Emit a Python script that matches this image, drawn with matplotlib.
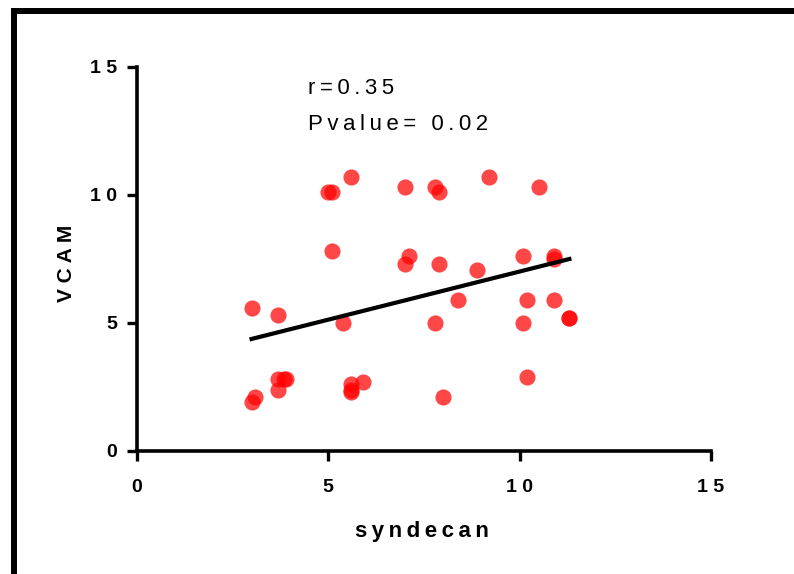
import numpy as np
import matplotlib.pyplot as plt
from matplotlib.patches import Rectangle

plt.rcParams['font.family'] = ['Liberation Sans', 'DejaVu Sans']

# values
syndecan = [5.0, 5.1, 5.6, 7.0, 7.8, 7.9, 9.2, 10.5,
            5.1, 7.1, 7.0, 7.9, 8.9, 10.1, 10.9, 10.9,
            8.4, 10.2, 10.9, 11.3, 11.3, 10.1, 7.8, 5.4,
            3.0, 3.7, 3.7, 3.7, 3.85, 3.9, 3.0, 3.1,
            5.6, 5.6, 5.6, 5.9, 8.0, 10.2]
vcam = [10.1, 10.1, 10.7, 10.3, 10.3, 10.1, 10.7, 10.3,
        7.8, 7.6, 7.3, 7.3, 7.05, 7.6, 7.6, 7.5,
        5.9, 5.9, 5.9, 5.2, 5.2, 5.0, 5.0, 5.0,
        5.6, 5.3, 2.4, 2.8, 2.8, 2.8, 1.9, 2.1,
        2.6, 2.4, 2.3, 2.7, 2.1, 2.9]
fit_slope = 0.376
fit_intercept = 3.245
r_value = 0.35
p_value = 0.02
x_ticks = [0, 5, 10, 15]
y_ticks = [0, 5, 10, 15]


def spaced(s, sep='\u2009'):
    # prism-style wide letter spacing
    return sep.join(s)


fig = plt.figure(figsize=(7.94, 5.74), dpi=100)
ax = fig.add_axes([0.1722, 0.2143, 0.7233, 0.6695])

ax.scatter(syndecan, vcam, s=135, color='red', alpha=0.72, linewidths=0, zorder=3)

xs = np.array([min(syndecan), max(syndecan)])
ax.plot(xs, fit_intercept + fit_slope * xs, color='black', linewidth=3.0, zorder=4)

ax.set_xlim(0, 15)
ax.set_ylim(0, 15)
ax.set_xticks(x_ticks)
ax.set_yticks(y_ticks)
ax.set_xticklabels([spaced(str(t), ' ') for t in x_ticks], fontweight='bold', fontsize=14)
ax.set_yticklabels([spaced(str(t), ' ') for t in y_ticks], fontweight='bold', fontsize=14)
ax.tick_params(direction='out', length=7, width=2.4, color='black')
ax.tick_params(axis='x', pad=13)
ax.tick_params(axis='y', pad=7)
for side in ['top', 'right']:
    ax.spines[side].set_visible(False)
for side in ['left', 'bottom']:
    ax.spines[side].set_linewidth(2.6)

fig.text(422 / 794, 1 - 532 / 574, spaced('syndecan'), ha='center', va='center',
         fontsize=16, fontweight='bold')
fig.text(66 / 794, 1 - 263.5 / 574, spaced('VCAM', ' '), ha='center', va='center',
         rotation=90, fontsize=15, fontweight='bold')

ax.text(308 / 794, 1 - 88 / 574, spaced('r=%.2f' % r_value), transform=fig.transFigure,
        ha='left', va='center', fontsize=16)
ax.text(308 / 794, 1 - 124 / 574, spaced('Pvalue= %.2f' % p_value), transform=fig.transFigure,
        ha='left', va='center', fontsize=16)

# thick frame around the panel, cut off at right and bottom
fig.patches.append(Rectangle((14, -50), 900, 574 - 11 + 50, transform=None,
                             fill=False, edgecolor='black', linewidth=4.3))

fig.savefig('out.png', dpi=100)
